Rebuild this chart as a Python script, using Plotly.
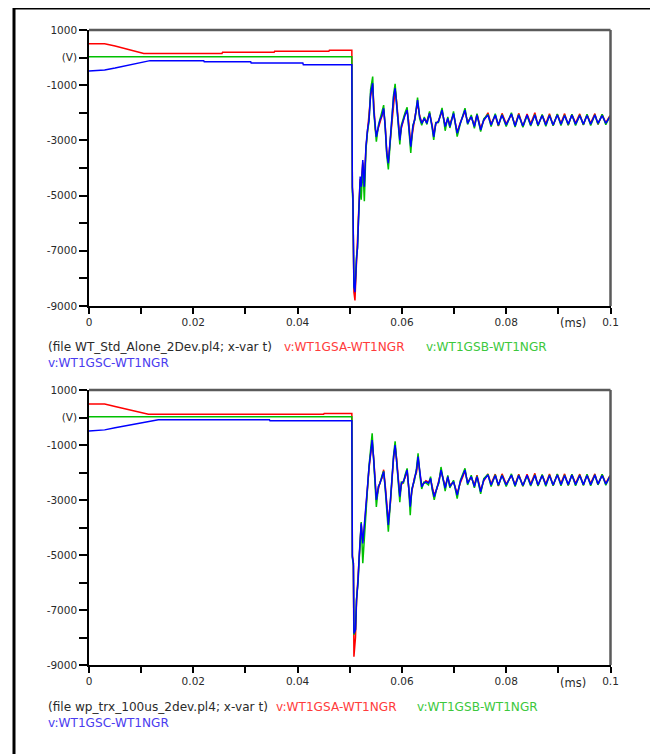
import plotly.graph_objects as go

# ---------------- data: top plot (WT_Std_Alone_2Dev.pl4) ----------------
t_top_pre = [0, 0.003, 0.005, 0.007, 0.009, 0.0105, 0.0117, 0.022, 0.0221, 0.0255,
             0.0256, 0.031, 0.0311, 0.0355, 0.0356, 0.041, 0.0411, 0.046, 0.0461, 0.0504]
a_top_pre = [500, 500, 420, 330, 230, 150, 150, 150, 150, 150,
             190, 190, 190, 190, 230, 230, 230, 230, 270, 270]
b_top_pre = [30, 30, 30, 30, 30, 30, 30, 30, 30, 30,
             30, 30, 30, 30, 30, 30, 30, 30, 30, 30]
c_top_pre = [-490, -450, -380, -300, -220, -150, -110, -110, -150, -150,
             -150, -150, -200, -200, -200, -200, -260, -260, -260, -260]

t_top_post = [0.0505, 0.0506, 0.0508, 0.0510, 0.0513, 0.0515, 0.0517, 0.0520, 0.0522, 0.0525,
              0.0528, 0.0531, 0.0534, 0.0537, 0.0540, 0.0544, 0.0546, 0.0549, 0.0551, 0.0555,
              0.0558, 0.0561, 0.0565, 0.0568, 0.0571, 0.0574, 0.0577, 0.0581, 0.0584, 0.0587,
              0.0590, 0.0594, 0.0596, 0.0599, 0.0603, 0.0606, 0.0610, 0.0613, 0.0617, 0.0621,
              0.0625, 0.0630, 0.0634, 0.0638, 0.0643, 0.0648, 0.0653, 0.0658, 0.0661, 0.0665,
              0.0670, 0.0677]
c_top_post = [-4700, -5000, -8300, -8500, -7300, -6850, -5760, -4310, -4680, -3710,
              -4680, -3230, -2620, -2260, -1300, -930, -1900, -2680, -2870, -2500,
              -2260, -2140, -1840, -2500, -3470, -3830, -3110, -2140, -1420, -1110,
              -1660, -2620, -2990, -2500, -2200, -2080, -1900, -2380, -3230, -2500,
              -2200, -1540, -2140, -2380, -2200, -2380, -2020, -2500, -2870, -2380,
              -2320, -1900]
a_top_post = [-4700, -5000, -8500, -8800, -7400, -6700, -5600, -4400, -4600, -3800,
              -4500, -3300, -2700, -2200, -1400, -1000, -1800, -2600, -2800, -2550,
              -2300, -2100, -1900, -2450, -3400, -3750, -3150, -2200, -1500, -1150,
              -1600, -2550, -2900, -2550, -2250, -2050, -1950, -2300, -3150, -2550,
              -2150, -1650, -2100, -2350, -2250, -2300, -2000, -2450, -2800, -2400,
              -2300, -1950]
b_top_post = [-4900, -5200, -8300, -8400, -7200, -6900, -5800, -4500, -5150, -3900,
              -5200, -3350, -2700, -2300, -1150, -690, -1950, -2750, -3050, -2450,
              -2200, -2050, -1720, -2550, -3550, -4050, -3200, -2100, -1350, -950,
              -1700, -2700, -3150, -2450, -2150, -2000, -1800, -2450, -3450, -2450,
              -2250, -1450, -2200, -2450, -2150, -2420, -1950, -2550, -2980, -2350,
              -2350, -1820]

t_tail = [0.0683, 0.0688, 0.0692, 0.0699, 0.0706, 0.0712, 0.0721, 0.0726, 0.0733, 0.0739,
          0.0744, 0.0751, 0.0757, 0.0765, 0.0771, 0.0779, 0.0785, 0.0792, 0.0800, 0.0810,
          0.0817, 0.0824, 0.0832, 0.0840, 0.0847, 0.0855, 0.0861, 0.0869, 0.0876, 0.0883,
          0.0890, 0.0898, 0.0905, 0.0912, 0.0919, 0.0926, 0.0933, 0.0941, 0.0948, 0.0955,
          0.0962, 0.0970, 0.0976, 0.0984, 0.0991, 0.0999, 0.1000]
c_top_tail = [-2500, -2200, -2500, -2020, -2740, -2380, -1900, -2380, -2140, -2500,
              -2080, -2620, -2260, -2080, -2440, -2080, -2440, -2080, -2440, -2040,
              -2480, -2080, -2480, -2080, -2440, -2080, -2440, -2100, -2440, -2100,
              -2440, -2080, -2410, -2100, -2410, -2080, -2410, -2100, -2410, -2100,
              -2410, -2080, -2380, -2100, -2380, -2140, -2200]
a_top_tail = [-2450, -2250, -2400, -2050, -2700, -2350, -1950, -2330, -2150, -2450,
              -2050, -2550, -2280, -2000, -2400, -2100, -2480, -2020, -2400, -2060,
              -2450, -2020, -2500, -2040, -2400, -2000, -2460, -2080, -2400, -2030,
              -2460, -2050, -2380, -2030, -2440, -2060, -2370, -2040, -2430, -2070,
              -2380, -2030, -2420, -2060, -2360, -2100, -2180]
b_top_tail = [-2650, -2150, -2550, -1950, -2860, -2400, -1830, -2420, -2080, -2560,
              -2030, -2680, -2220, -2050, -2500, -2030, -2470, -2060, -2500, -2000,
              -2520, -2060, -2520, -2100, -2480, -2060, -2480, -2060, -2490, -2080,
              -2470, -2040, -2460, -2080, -2450, -2050, -2460, -2080, -2440, -2050,
              -2460, -2070, -2420, -2050, -2430, -2120, -2200]

# ---------------- data: bottom plot (wp_trx_100us_2dev.pl4) ----------------
t_bot_pre = [0, 0.003, 0.005, 0.007, 0.009, 0.011, 0.0114, 0.0133, 0.0346, 0.0347,
             0.045, 0.0451, 0.0504]
a_bot_pre = [490, 490, 400, 310, 220, 130, 120, 120, 120, 120, 120, 150, 150]
b_bot_pre = [30, 30, 30, 30, 30, 30, 30, 30, 30, 30, 30, 30, 30]
c_bot_pre = [-490, -450, -370, -300, -230, -150, -140, -80, -80, -120, -120, -120, -120]

t_bot_post = [0.0505, 0.0507, 0.0508, 0.0511, 0.0513, 0.0516, 0.0518, 0.0520, 0.0522, 0.0525,
              0.0528, 0.0531, 0.0534, 0.0537, 0.0540, 0.0543, 0.0546, 0.0549, 0.0551, 0.0555,
              0.0558, 0.0562, 0.0565, 0.0568, 0.0571, 0.0574, 0.0578, 0.0581, 0.0584, 0.0587,
              0.0590, 0.0593, 0.0596, 0.0599, 0.0603, 0.0606, 0.0610, 0.0613, 0.0616, 0.0619,
              0.0624, 0.0628, 0.0631, 0.0635, 0.0638, 0.0642, 0.0646, 0.0651, 0.0655, 0.0658,
              0.0662, 0.0667, 0.0671, 0.0675]
c_bot_post = [-5060, -5300, -7850, -7720, -6630, -5910, -5060, -4210, -3850, -4580,
              -3970, -3240, -2520, -1790, -1300, -820, -1550, -2520, -3000, -2520,
              -2390, -2150, -1970, -2520, -3360, -3910, -3000, -2150, -1420, -1000,
              -1550, -2270, -2880, -2390, -2330, -2150, -1910, -2520, -3240, -2640,
              -2270, -1910, -1420, -2150, -2520, -2390, -2330, -2390, -2210, -2570,
              -2880, -2570, -2330, -1910]
a_bot_post = [-5000, -5300, -8700, -8000, -6700, -5800, -5100, -4300, -3900, -4500,
              -4050, -3300, -2450, -1850, -1350, -900, -1500, -2450, -2950, -2600,
              -2350, -2200, -1900, -2450, -3300, -3800, -3100, -2200, -1500, -1050,
              -1500, -2200, -2800, -2450, -2300, -2200, -1950, -2450, -3150, -2700,
              -2200, -2000, -1500, -2100, -2450, -2400, -2300, -2350, -2250, -2500,
              -2820, -2600, -2300, -1950]
b_bot_post = [-5100, -5400, -7900, -7700, -6600, -6000, -5200, -4350, -3800, -5300,
              -4250, -3350, -2600, -1750, -1200, -576, -1600, -2600, -3250, -2500,
              -2400, -2100, -1950, -2600, -3450, -4150, -3050, -2100, -1380, -870,
              -1600, -2350, -3080, -2350, -2380, -2100, -1850, -2550, -3550, -2600,
              -2300, -1850, -1300, -2200, -2600, -2350, -2380, -2450, -2150, -2620,
              -2990, -2550, -2380, -1800]
c_bot_tail = [-2570, -2150, -2510, -2330, -2820, -2330, -1910, -2400, -2150, -2510,
              -2150, -2700, -2270, -2090, -2455, -2110, -2455, -2110, -2455, -2090,
              -2470, -2110, -2470, -2100, -2455, -2100, -2455, -2110, -2455, -2110,
              -2455, -2090, -2440, -2110, -2440, -2090, -2440, -2110, -2440, -2110,
              -2440, -2090, -2420, -2110, -2420, -2140, -2200]
a_bot_tail = [-2500, -2180, -2450, -2350, -2750, -2380, -1950, -2350, -2180, -2450,
              -2100, -2650, -2300, -2050, -2420, -2060, -2490, -2050, -2420, -2110,
              -2440, -2060, -2490, -2060, -2420, -2030, -2480, -2090, -2420, -2050,
              -2470, -2060, -2400, -2050, -2460, -2070, -2400, -2060, -2450, -2080,
              -2400, -2050, -2440, -2070, -2390, -2110, -2180]
b_bot_tail = [-2680, -2100, -2560, -2280, -2950, -2290, -1850, -2450, -2100, -2560,
              -2120, -2780, -2220, -2060, -2510, -2080, -2480, -2090, -2510, -2050,
              -2510, -2090, -2500, -2120, -2490, -2080, -2490, -2070, -2500, -2090,
              -2480, -2050, -2480, -2090, -2470, -2060, -2480, -2090, -2470, -2060,
              -2480, -2080, -2450, -2060, -2460, -2120, -2200]

series_names = ["v:WT1GSA-WT1NGR", "v:WT1GSB-WT1NGR", "v:WT1GSC-WT1NGR"]
file_labels = ["(file WT_Std_Alone_2Dev.pl4; x-var t)", "(file wp_trx_100us_2dev.pl4; x-var t)"]
x_tick_vals = [0, 0.01, 0.02, 0.03, 0.04, 0.05, 0.06, 0.07, 0.08, 0.09, 0.1]
x_tick_text = ["0", "", "0.02", "", "0.04", "", "0.06", "", "0.08", "", "0.1"]
y_tick_vals = [1000, 0, -1000, -2000, -3000, -4000, -5000, -6000, -7000, -8000, -9000]
y_tick_text = ["1000", "(V)", "-1000", "", "-3000", "", "-5000", "", "-7000", "", "-9000"]

# ---------------- assemble ----------------
t_top = t_top_pre + t_top_post + t_tail
top_series = [a_top_pre + a_top_post + a_top_tail,
              b_top_pre + b_top_post + b_top_tail,
              c_top_pre + c_top_post + c_top_tail]
t_bot = t_bot_pre + t_bot_post + t_tail
bot_series = [a_bot_pre + a_bot_post + a_bot_tail,
              b_bot_pre + b_bot_post + b_bot_tail,
              c_bot_pre + c_bot_post + c_bot_tail]
for s in top_series:
    assert len(s) == len(t_top), (len(s), len(t_top))
for s in bot_series:
    assert len(s) == len(t_bot), (len(s), len(t_bot))

# page body has an 8px margin: the figure is 8px smaller and all
# positions below are given in window pixels then shifted by OFF
OFF = 8
W, H = 658 - OFF, 754 - OFF
line_colors = ["#ff0000", "#00c000", "#0000ff"]
text_colors = ["#ff3b3b", "#3cc83c", "#4a3cf0"]
FONT = "DejaVu Sans"

fig = go.Figure()
for i in range(3):
    fig.add_trace(go.Scatter(x=t_top, y=top_series[i], mode="lines", name=series_names[i],
                             line=dict(color=line_colors[i], width=1.5),
                             xaxis="x", yaxis="y", showlegend=False))
for i in range(3):
    fig.add_trace(go.Scatter(x=t_bot, y=bot_series[i], mode="lines", name=series_names[i],
                             line=dict(color=line_colors[i], width=1.5),
                             xaxis="x2", yaxis="y2", showlegend=False))

def px_x(p):
    return (p - OFF) / W

def px_y(p):
    return 1 - (p - OFF) / H

xdom = [px_x(89), px_x(610.5)]
tickfont = dict(family=FONT, size=10.5, color="#2a2a2a")
xax = dict(range=[0, 0.1], domain=xdom, tickvals=x_tick_vals, ticktext=x_tick_text,
           ticks="outside", ticklen=6, tickwidth=1.5, tickcolor="black",
           showline=True, linecolor="black", linewidth=1.5, showgrid=False,
           zeroline=False, tickfont=tickfont, fixedrange=True, automargin=False)
yax = dict(range=[-9000, 1000], tickvals=y_tick_vals, ticktext=y_tick_text,
           ticks="outside", ticklen=8, tickwidth=1.5, tickcolor="black",
           showline=True, linecolor="black", linewidth=1.5, showgrid=False,
           zeroline=False, tickfont=tickfont, fixedrange=True, automargin=False)

fig.update_layout(
    template="none",
    width=W, height=H, autosize=False,
    margin=dict(l=0, r=0, t=0, b=0, pad=0),
    paper_bgcolor="white", plot_bgcolor="white",
    xaxis=dict(xax, anchor="y"),
    yaxis=dict(yax, domain=[px_y(306), px_y(30)], anchor="x"),
    xaxis2=dict(xax, anchor="y2"),
    yaxis2=dict(yax, domain=[px_y(665), px_y(390)], anchor="x2"),
)

shapes = []
for xr, yr in (("x", "y"), ("x2", "y2")):
    shapes.append(dict(type="line", xref=xr + " domain", yref=yr + " domain",
                       x0=0, x1=1, y0=1, y1=1, line=dict(color="#5a5a5a", width=2.5)))
    shapes.append(dict(type="line", xref=xr + " domain", yref=yr + " domain",
                       x0=1, x1=1, y0=0, y1=1, line=dict(color="#5a5a5a", width=2.5)))
shapes.append(dict(type="rect", xref="paper", yref="paper",
                   x0=px_x(14), x1=px_x(656.5), y0=-0.05, y1=px_y(8),
                   line=dict(color="black", width=3)))
fig.update_layout(shapes=shapes)

legend_font = 12.1
ann = []
for k, (row1_y, row2_y, red_x, green_x, ms_y, xr) in enumerate(
        [(347, 363, 283, 425, 323, "x"), (707, 723, 275, 416, 683, "x2")]):
    ann.append(dict(text=file_labels[k], x=px_x(46), y=px_y(row1_y), xref="paper", yref="paper",
                    xanchor="left", yanchor="middle", showarrow=False,
                    font=dict(family=FONT, size=legend_font, color="#2a2a2a")))
    ann.append(dict(text=series_names[0], x=px_x(red_x - 1), y=px_y(row1_y), xref="paper", yref="paper",
                    xanchor="left", yanchor="middle", showarrow=False,
                    font=dict(family=FONT, size=legend_font, color=text_colors[0])))
    ann.append(dict(text=series_names[1], x=px_x(green_x - 1), y=px_y(row1_y), xref="paper", yref="paper",
                    xanchor="left", yanchor="middle", showarrow=False,
                    font=dict(family=FONT, size=legend_font, color=text_colors[1])))
    ann.append(dict(text=series_names[2], x=px_x(46), y=px_y(row2_y), xref="paper", yref="paper",
                    xanchor="left", yanchor="middle", showarrow=False,
                    font=dict(family=FONT, size=legend_font, color=text_colors[2])))
    ann.append(dict(text="(ms)", x=0.0928, y=px_y(ms_y), xref=xr, yref="paper",
                    xanchor="center", yanchor="middle", showarrow=False,
                    font=dict(family=FONT, size=11.5, color="#2a2a2a")))
fig.update_layout(annotations=ann)

fig.write_html("out.html")
